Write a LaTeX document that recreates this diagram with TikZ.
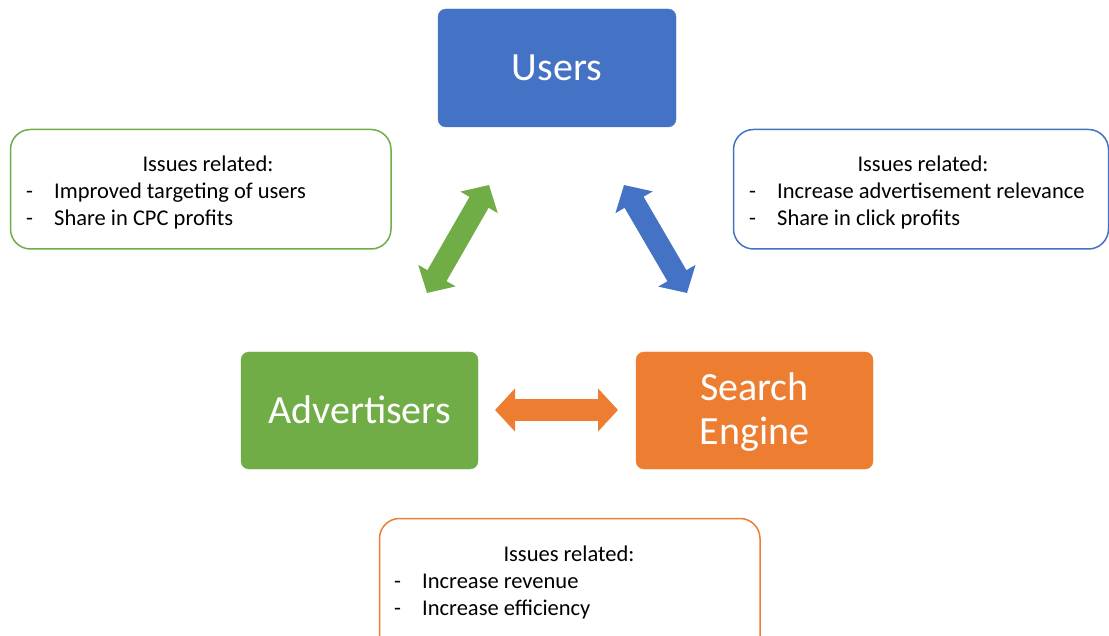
\documentclass[tikz,border=0pt]{standalone}
\usepackage{fontspec}
\setmainfont{Carlito}
\usetikzlibrary{arrows.meta}
\definecolor{ublue}{HTML}{4472C4}
\definecolor{agreen}{HTML}{70AD47}
\definecolor{sorange}{HTML}{ED7D31}
\begin{document}
\begin{tikzpicture}[x=1pt,y=-1pt,
  bigbox/.style={fill=#1, draw=#1, rounded corners=8pt},
  bigtext/.style={text=white, font=\fontsize{40}{44}\selectfont, inner sep=0pt, align=center},
  issuebox/.style={draw=#1, line width=1.5pt, rounded corners=20pt, fill=white},
  titletext/.style={font=\fontsize{22.5}{27}\selectfont, inner sep=0pt, anchor=base},
  itemtext/.style={font=\fontsize{22.5}{27}\selectfont, inner sep=0pt, anchor=base west, align=left},
  blockarrow/.style={draw=#1, line width=22pt,
    {Triangle[length=20pt,width=42pt,fill=#1]}-{Triangle[length=20pt,width=42pt,fill=#1]}}
]
\useasboundingbox (0,0) rectangle (1109,636);
\clip (0,0) rectangle (1109,636);
% main boxes
\draw[bigbox=ublue] (438,9) rectangle (676,127);
\node[bigtext] (users) at (557,68) {Users};
\draw[bigbox=agreen] (241,352) rectangle (478,469);
\node[bigtext] (adv) at (359.5,410) {Advertisers};
\draw[bigbox=sorange] (636,352) rectangle (873,469);
\node[bigtext] (se) at (754.5,412) {Search\\Engine};
% issue boxes
\draw[issuebox=agreen] (10.5,129.5) rectangle (391,249);
\node[titletext] (gt) at (208,172) {Issues related:};
\node[itemtext] (gi) at (26,226) {\makebox[28pt][l]{-}Improved targeting of users\\\makebox[28pt][l]{-}Share in CPC profits};
\draw[issuebox=ublue] (733.5,129.5) rectangle (1108.5,249);
\node[titletext] (bt) at (923,172) {Issues related:};
\node[itemtext] (bi) at (749,226) {\makebox[28pt][l]{-}Increase advertisement relevance\\\makebox[28pt][l]{-}Share in click profits};
\draw[issuebox=sorange] (379.5,518.5) rectangle (760,660);
\node[titletext] (ot) at (569,561) {Issues related:};
\node[itemtext] (oi) at (394,615) {\makebox[28pt][l]{-}Increase revenue\\\makebox[28pt][l]{-}Increase efficiency};
% arrows
\coordinate (g1) at (427,293);
\coordinate (g2) at (489,185);
\coordinate (b1) at (624,185);
\coordinate (b2) at (687,293);
\coordinate (o1) at (495,410);
\coordinate (o2) at (618,410);
\draw[blockarrow=agreen] (g1) -- (g2);
\draw[blockarrow=ublue] (b1) -- (b2);
\draw[blockarrow=sorange] (o1) -- (o2);
\end{tikzpicture}
\end{document}
